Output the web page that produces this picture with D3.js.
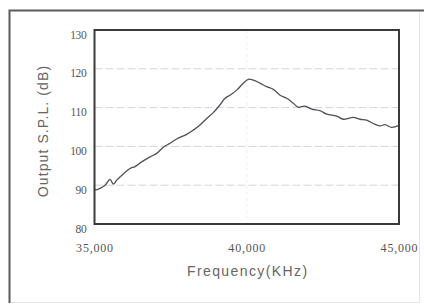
<!DOCTYPE html>
<html>
<head>
<meta charset="utf-8">
<script src="https://cdn.jsdelivr.net/npm/d3@7"></script>
<style>
  body { margin: 0; background: #fff; }
  svg { display: block; }
</style>
</head>
<body>
<svg id="chart" width="424" height="307"></svg>
<script>
// curve: frequency (Hz) and output SPL (dB)
var freqs = [35000, 35049, 35181, 35345, 35509, 35617, 35729, 35946, 36166, 36330, 36550, 36823,
    37043, 37259, 37479, 37699, 38028, 38245, 38465, 38685, 38901, 39121, 39286, 39450,
    39670, 39887, 40051, 40215, 40435, 40655, 40872, 41092, 41312, 41529, 41693, 41913,
    42133, 42406, 42626, 42954, 43171, 43499, 43719, 43939, 44157, 44376, 44541, 44760, 45000];
var spl = [89.0, 88.8, 89.2, 90.0, 91.5, 90.3, 91.3, 92.9, 94.3, 94.8, 96.0, 97.3,
    98.2, 99.8, 100.8, 101.9, 103.1, 104.2, 105.5, 107.2, 108.7, 110.7, 112.4, 113.2,
    114.5, 116.3, 117.3, 117.1, 116.3, 115.4, 114.7, 113.2, 112.4, 111.1, 110.1, 110.4,
    109.6, 109.2, 108.3, 107.8, 107.0, 107.5, 107.0, 106.8, 105.9, 105.3, 105.6, 104.9, 105.4];
var xTicks = [35000, 40000, 45000];
var yTicks = [80, 90, 100, 110, 120, 130];

var svg = d3.select('#chart');
var margin = {left: 94.5, right: 25, top: 30, bottom: 83};
var width = 424 - margin.left - margin.right;
var height = 307 - margin.top - margin.bottom;

// outer frame of the figure
svg.append('rect')
    .attr('x', 9.5).attr('y', 10.5)
    .attr('width', 410).attr('height', 292)
    .style('fill', 'none')
    .style('stroke', '#e4e6e6')
    .style('stroke-width', 1);
svg.append('path')
    .attr('d', 'M9.5,303V10.5H424')
    .style('fill', 'none')
    .style('stroke', '#5a5a5a')
    .style('stroke-width', 2);

var g = svg.append('g')
    .attr('transform', 'translate(' + margin.left + ',' + margin.top + ')');

var x = d3.scaleLinear().domain([35000, 45000]).range([0, width]);
var y = d3.scaleLinear().domain([80, 130]).range([height, 0]);

// gridlines
g.append('g')
    .selectAll('line.hgrid')
    .data(yTicks.slice(1, -1))
    .enter().append('line')
    .attr('class', 'hgrid')
    .attr('x1', 0).attr('x2', width)
    .attr('y1', function(d){ return y(d); })
    .attr('y2', function(d){ return y(d); })
    .style('stroke', '#d9d2dc')
    .style('stroke-width', 1)
    .style('stroke-dasharray', '8 3');

g.append('line')
    .attr('x1', x(40000)).attr('x2', x(40000))
    .attr('y1', 0).attr('y2', height)
    .style('stroke', '#eceef0')
    .style('stroke-width', 1)
    .style('stroke-dasharray', '3 3');

// axes, labels only
var yAxis = g.append('g')
    .call(d3.axisLeft(y).tickValues(yTicks).tickSize(0).tickPadding(8));
yAxis.select('.domain').remove();
yAxis.selectAll('text')
    .attr('dy', '0.7em')
    .style('font-family', '"Liberation Serif", "DejaVu Serif", serif')
    .style('font-size', '11.5px')
    .style('letter-spacing', '-0.3px')
    .style('fill', '#555');

var xAxis = g.append('g')
    .attr('transform', 'translate(0,' + height + ')')
    .call(d3.axisBottom(x).tickValues(xTicks).tickSize(0).tickPadding(19)
        .tickFormat(d3.format(',')));
xAxis.select('.domain').remove();
xAxis.selectAll('text')
    .style('font-family', '"Liberation Serif", "DejaVu Serif", serif')
    .style('font-size', '12px')
    .style('letter-spacing', '0.8px')
    .style('fill', '#555');

// curve
var line = d3.line()
    .x(function(d){ return x(d[0]); })
    .y(function(d){ return y(d[1]); })
    .curve(d3.curveCatmullRom);

g.append('path')
    .datum(d3.zip(freqs, spl))
    .attr('d', line)
    .style('fill', 'none')
    .style('stroke', '#4f4f55')
    .style('stroke-width', 1.3);

// plot frame
g.append('rect')
    .attr('width', width).attr('height', height)
    .style('fill', 'none')
    .style('stroke', '#3a3a3a')
    .style('stroke-width', 2);

// titles
svg.append('text')
    .attr('x', margin.left + width / 2 + 1)
    .attr('y', 276)
    .attr('text-anchor', 'middle')
    .style('font-family', '"Liberation Sans", Arial, sans-serif')
    .style('font-size', '14px')
    .style('letter-spacing', '1.4px')
    .style('fill', '#666')
    .text('Frequency(KHz)');

svg.append('text')
    .attr('transform', 'translate(48,131) rotate(-90)')
    .attr('text-anchor', 'middle')
    .style('font-family', '"Liberation Sans", Arial, sans-serif')
    .style('font-size', '14px')
    .style('letter-spacing', '1.1px')
    .style('fill', '#666')
    .text('Output S.P.L. (dB)');
</script>
</body>
</html>
